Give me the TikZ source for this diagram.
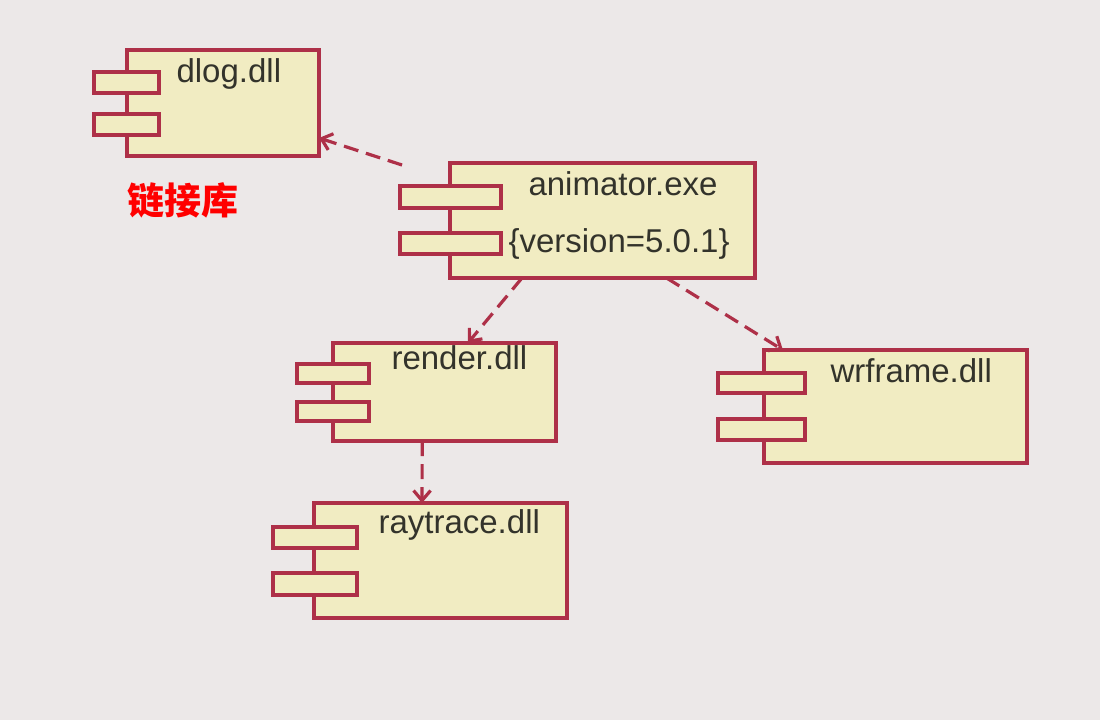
\documentclass[tikz,border=0pt]{standalone}
\usepackage{fontspec}
\setmainfont{Liberation Sans}
\newfontfamily\cjk{Noto Sans CJK SC}
\usetikzlibrary{arrows.meta,calc}
\definecolor{umlred}{HTML}{AE3048}
\definecolor{umlfill}{HTML}{F1ECC2}
\definecolor{paper}{HTML}{ECE8E8}
\definecolor{inkgray}{HTML}{33332B}

\begin{document}
\begin{tikzpicture}[x=1pt,y=-1pt,>={Straight Barb[length=10pt,width=17pt]},
  comp/.style={draw=umlred,fill=umlfill,line width=3.2pt,rectangle,inner sep=0pt,outer sep=0pt,anchor=north west},
  compname/.style={anchor=base west,text=inkgray,font=\fontsize{33}{40}\selectfont},
  dep/.style={->,draw=umlred,line width=3.2pt,dash pattern=on 15pt off 8pt}]

  \fill[paper] (0,0) rectangle (1100,720);
  \useasboundingbox (0,0) rectangle (1100,720);

  % dlog.dll
  \node[comp,minimum width=192pt,minimum height=106pt] (dlog) at (127,50) {};
  \node[comp,minimum width=65pt,minimum height=21pt] (dlogt1) at (94,72) {};
  \node[comp,minimum width=65pt,minimum height=21pt] (dlogt2) at (94,114) {};
  \node[compname] (dlogname) at (173,82) {dlog.dll};

  % animator.exe
  \node[comp,minimum width=305pt,minimum height=115pt] (anim) at (450,163) {};
  \node[comp,minimum width=101pt,minimum height=22pt] (animt1) at (400,186) {};
  \node[comp,minimum width=101pt,minimum height=21pt] (animt2) at (400,233) {};
  \node[compname] (animname) at (525,195) {animator.exe};
  \node[compname] (animver) at (505,252) {\{version=5.0.1\}};

  % render.dll
  \node[comp,minimum width=223pt,minimum height=98pt] (render) at (333,343) {};
  \node[comp,minimum width=72pt,minimum height=19pt] (rendert1) at (297,364) {};
  \node[comp,minimum width=72pt,minimum height=19pt] (rendert2) at (297,402) {};
  \node[compname] (rendername) at (388,369) {render.dll};

  % raytrace.dll
  \node[comp,minimum width=253pt,minimum height=115pt] (raytrace) at (314,503) {};
  \node[comp,minimum width=84pt,minimum height=21pt] (raytracet1) at (273,527) {};
  \node[comp,minimum width=84pt,minimum height=22pt] (raytracet2) at (273,573) {};
  \node[compname] (raytracename) at (375,533) {raytrace.dll};

  % wrframe.dll
  \node[comp,minimum width=263pt,minimum height=113pt] (wrframe) at (764,350) {};
  \node[comp,minimum width=87pt,minimum height=20pt] (wrframet1) at (718,373) {};
  \node[comp,minimum width=87pt,minimum height=21pt] (wrframet2) at (718,419) {};
  \node[compname] (wrframename) at (827,382) {wrframe.dll};

  \node[anchor=west,text=red,font=\cjk\bfseries\fontsize{37}{40}\selectfont] (lib) at (124,200) {链接库};

  % dependencies
  \draw[dep] ($(anim.north west)+(-48,2)$) -- ($(dlog.north east)!0.83!(dlog.south east)$);
  \draw[dep] ($(anim.south west)!0.236!(anim.south east)$) -- ($(render.north west)!0.605!(render.north east)$);
  \draw[dep] ($(anim.south west)!0.71!(anim.south east)$) -- ($(wrframe.north west)!0.072!(wrframe.north east)$);
  \draw[dep] ($(render.south west)!0.40!(render.south east)$) -- ($(raytrace.north west)!0.427!(raytrace.north east)$);

\end{tikzpicture}
\end{document}
